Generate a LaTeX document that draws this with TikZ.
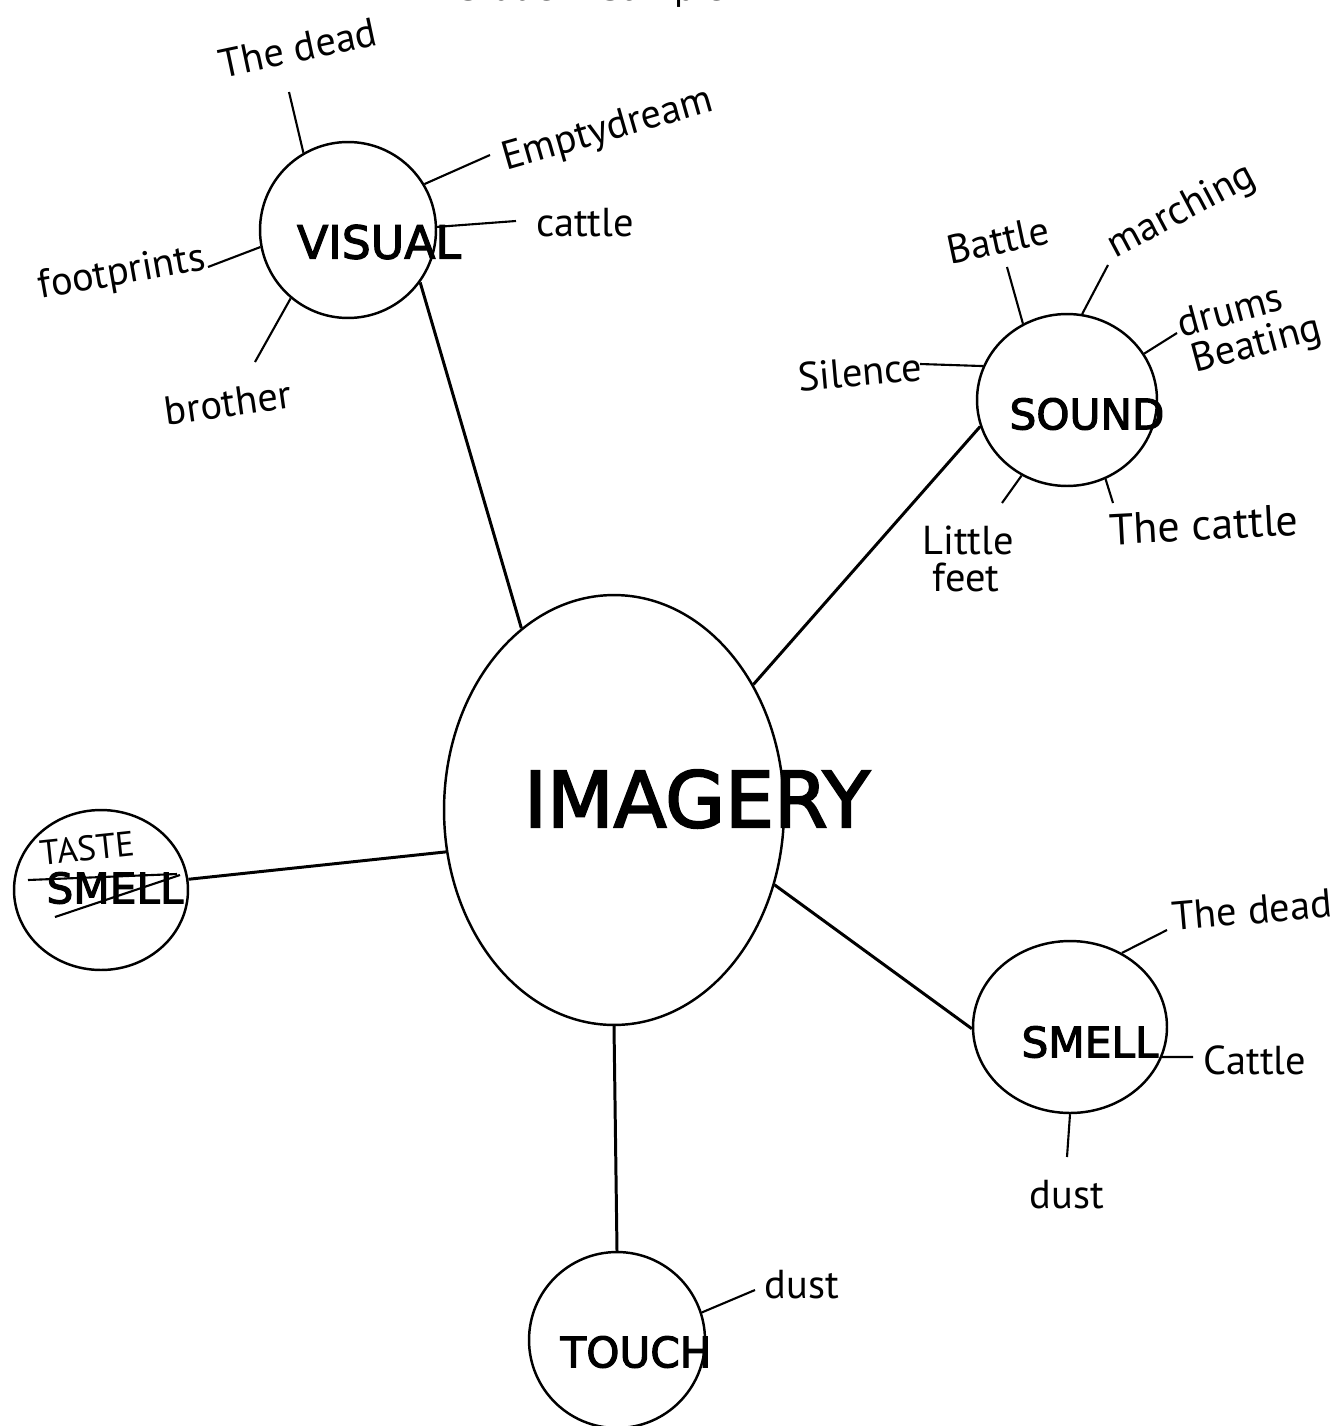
\documentclass[tikz,border=0pt]{standalone}
\usepackage{fontspec}
\usetikzlibrary{shapes.geometric}
\newfontfamily\capfont{DejaVu Sans}[FakeBold=2.6]
\newfontfamily\titlefont{DejaVu Sans}
\newfontfamily\handfont{PT Sans}
\begin{document}
\begin{tikzpicture}[x=0.02cm,y=-0.02cm]
\tikzset{
  bub/.style={draw, line width=1.4pt, ellipse, inner sep=0pt},
  conn/.style={line width=1.7pt},
  spoke/.style={line width=1.2pt},
  hand/.style={font=\handfont\fontsize{23}{25}\selectfont, inner sep=0pt},
  capl/.style={font=\capfont\fontsize{24}{28}\selectfont, inner sep=0pt},
}
\useasboundingbox[fill=white] (0,0) rectangle (1338,1426);

% title, cut off at the top edge
\node[font=\titlefont\fontsize{19}{22}\selectfont, anchor=base, inner sep=0pt] (title) at (592,1) {Student Sample};

% bubbles
\node[bub, minimum width=3.52cm, minimum height=3.52cm] (visual) at (348,230) {};
\node[bub, minimum width=6.8cm, minimum height=8.6cm] (imagery) at (614,810) {};
\node[bub, minimum width=3.6cm, minimum height=3.44cm] (sound) at (1067,400) {};
\node[bub, minimum width=3.88cm, minimum height=3.44cm] (smell) at (1070,1027) {};
\node[bub, minimum width=3.48cm, minimum height=3.2cm] (taste) at (101,890) {};
\node[bub, minimum width=3.52cm, minimum height=3.52cm] (touch) at (617,1340) {};

% bubble texts
\node[capl, font=\capfont\fontsize{26}{28}\selectfont] (visualtxt) at (379,242) {VISUAL};
\node[font=\capfont\fontsize{44}{48}\selectfont, inner sep=0pt] (imagerytxt) at (697,799) {IMAGERY};
\node[capl] (soundtxt) at (1087,414) {SOUND};
\node[capl] (smelltxt) at (1090,1042) {SMELL};
\node[capl] (touchtxt) at (636,1352) {TOUCH};
\node[font=\handfont\fontsize{20}{22}\selectfont, inner sep=0pt, rotate=6] (tastetxt) at (87,848) {TASTE};
\node[capl] (oldsmell) at (115,888) {SMELL};
\coordinate (s1a) at (28,880);
\coordinate (s1b) at (177,874);
\coordinate (s2a) at (55,917);
\coordinate (s2b) at (180,875);
\draw[spoke] (s1a) -- (s1b);
\draw[spoke] (s2a) -- (s2b);

% main connectors
\draw[conn] (visual.-36) -- (imagery.117);
\draw[conn] (sound.197) -- (imagery.42);
\draw[conn] (taste.7) -- (imagery.194.6);
\draw[conn] (imagery.-25) -- (smell.181);
\draw[conn] (imagery.south) -- (touch.north);

% VISUAL spokes
\coordinate (v1) at (289,92);
\coordinate (v2) at (490,155);
\coordinate (v3) at (516,221);
\coordinate (v4) at (208,267);
\coordinate (v5) at (255,362);
\draw[spoke] (visual.120) -- (v1);
\draw[spoke] (visual.31) -- (v2);
\draw[spoke] (visual.2.5) -- (v3);
\draw[spoke] (visual.191) -- (v4);
\draw[spoke] (visual.230) -- (v5);
\node[hand, rotate=12] (vl1) at (298,48) {The dead};
\node[hand, rotate=16] (vl2) at (608,131) {Emptydream};
\node[hand] (vl3) at (585,223) {cattle};
\node[hand, rotate=10] (vl4) at (122,274) {footprints};
\node[hand, rotate=8] (vl5) at (228,403) {brother};

% SOUND spokes
\coordinate (o1) at (1007,267);
\coordinate (o2) at (1108,265);
\coordinate (o3) at (1177,333);
\coordinate (o4) at (920,364);
\coordinate (o5) at (1002,503);
\coordinate (o6) at (1113,503);
\draw[spoke] (sound.120) -- (o1);
\draw[spoke] (sound.80) -- (o2);
\draw[spoke] (sound.31) -- (o3);
\draw[spoke] (sound.158) -- (o4);
\draw[spoke] (sound.239) -- (o5);
\draw[spoke] (sound.-64) -- (o6);
\node[hand, rotate=12] (ol1) at (998,240) {Battle};
\node[hand, rotate=28] (ol2) at (1182,212) {marching};
\node[hand, rotate=15] (ol3a) at (1230,310) {drums};
\node[hand, rotate=15] (ol3b) at (1257,346) {Beating};
\node[hand, rotate=5] (ol4) at (860,372) {Silence};
\node[hand] (ol5a) at (968,540) {Little};
\node[hand] (ol5b) at (966,577) {feet};
\node[hand, font=\handfont\fontsize{25}{28}\selectfont, rotate=3] (ol6) at (1204,525) {The cattle};

% SMELL spokes
\coordinate (m1) at (1167,930);
\coordinate (m2) at (1193,1057);
\coordinate (m3) at (1067,1157);
\draw[spoke] (smell.55) -- (m1);
\draw[spoke] (smell.-18) -- (m2);
\draw[spoke] (smell.270) -- (m3);
\node[hand, rotate=5] (ml1) at (1252,910) {The dead};
\node[hand] (ml2) at (1255,1060) {Cattle};
\node[hand] (ml3) at (1067,1195) {dust};

% TOUCH spoke
\coordinate (t1) at (755,1290);
\draw[spoke] (touch.18) -- (t1);
\node[hand] (tl1) at (802,1285) {dust};
\end{tikzpicture}
\end{document}
